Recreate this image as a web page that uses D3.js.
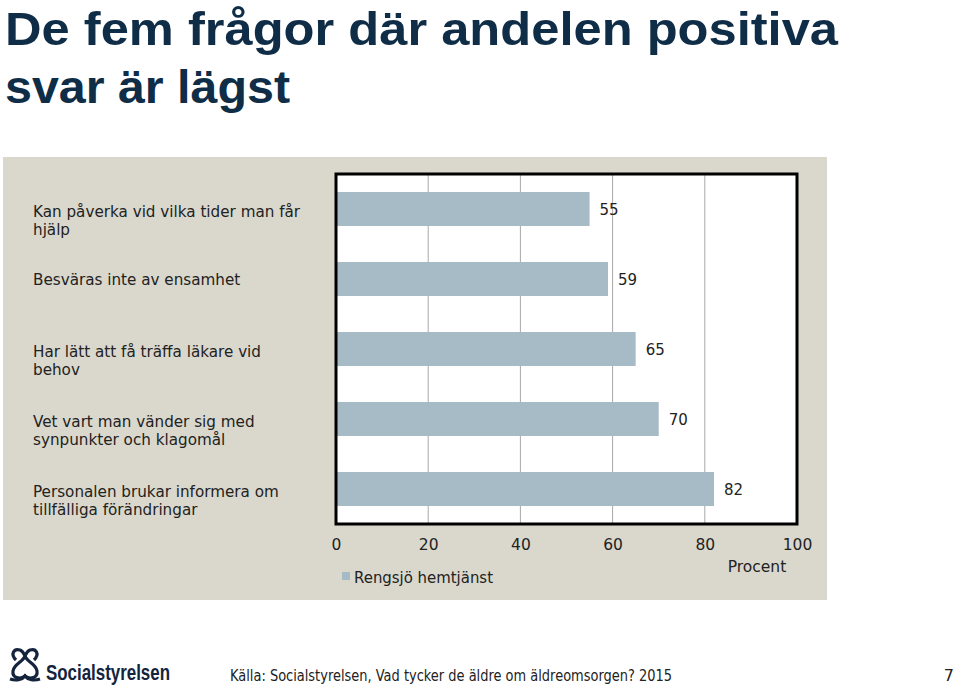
<!DOCTYPE html>
<html><head><meta charset="utf-8">
<script src="https://cdn.jsdelivr.net/npm/d3@7/dist/d3.min.js"></script>
<style>
html,body{margin:0;padding:0;background:#fff;}
svg{display:block;}
</style></head>
<body>
<svg id="chart" width="959" height="688"></svg>
<script>
const categories = [
  ["Kan påverka vid vilka tider man får", "hjälp"],
  ["Besväras inte av ensamhet"],
  ["Har lätt att få träffa läkare vid", "behov"],
  ["Vet vart man vänder sig med", "synpunkter och klagomål"],
  ["Personalen brukar informera om", "tillfälliga förändringar"]
];
const values = [55, 59, 65, 70, 82];
const xTicks = [0, 20, 40, 60, 80, 100];
const seriesName = "Rengsjö hemtjänst";
const axisTitle = "Procent";
const titleLines = ["De fem frågor där andelen positiva", "svar är lägst"];
const sourceText = "Källa: Socialstyrelsen, Vad tycker de äldre om äldreomsorgen? 2015";
const pageNumber = "7";

const svg = d3.select("#chart");
const FONT = "'DejaVu Sans', sans-serif";

// Title
svg.append("text").attr("x", 5).attr("y", 45)
  .attr("font-family", "'Liberation Sans', Arial, sans-serif").attr("font-weight", "bold")
  .attr("font-size", 47).attr("fill", "#0f2d47")
  .attr("textLength", 833).attr("lengthAdjust", "spacingAndGlyphs")
  .text(titleLines[0]);
svg.append("text").attr("x", 5).attr("y", 103)
  .attr("font-family", "'Liberation Sans', Arial, sans-serif").attr("font-weight", "bold")
  .attr("font-size", 47).attr("fill", "#0f2d47")
  .attr("textLength", 285).attr("lengthAdjust", "spacingAndGlyphs")
  .text(titleLines[1]);

// Panel
svg.append("rect").attr("x", 3).attr("y", 157).attr("width", 824).attr("height", 443)
  .attr("fill", "#dad8cc");

const plot = {left: 336, right: 797, top: 174, bottom: 524};
const x = d3.scaleLinear().domain([0, 100]).range([plot.left, plot.right]);
const y = d3.scaleBand().domain(d3.range(values.length)).range([plot.top, plot.bottom]).paddingInner(0.514).paddingOuter(0.257);

svg.append("rect").attr("x", plot.left).attr("y", plot.top)
  .attr("width", plot.right - plot.left).attr("height", plot.bottom - plot.top)
  .attr("fill", "#fff");

// gridlines
svg.append("g").selectAll("line").data(xTicks.filter(d => d > 0 && d < 100)).join("line")
  .attr("x1", d => x(d)).attr("x2", d => x(d))
  .attr("y1", plot.top).attr("y2", plot.bottom)
  .attr("stroke", "#a8a8a8").attr("stroke-width", 1);

// bars
svg.append("g").selectAll("rect").data(values).join("rect")
  .attr("x", x(0)).attr("y", (d, i) => y(i))
  .attr("width", d => x(d) - x(0)).attr("height", y.bandwidth())
  .attr("fill", "#a6bbc6");

// value labels
svg.append("g").selectAll("text").data(values).join("text")
  .attr("x", d => x(d) + 10).attr("y", (d, i) => y(i) + y.bandwidth() / 2 + 6)
  .attr("font-family", FONT).attr("font-size", 15).attr("fill", "#222")
  .text(d => d);

// border
svg.append("rect").attr("x", plot.left).attr("y", plot.top)
  .attr("width", plot.right - plot.left).attr("height", plot.bottom - plot.top)
  .attr("fill", "none").attr("stroke", "#000").attr("stroke-width", 3);

// x axis labels
const xAxis = d3.axisBottom(x).tickValues(xTicks).tickSize(0).tickPadding(0);
const gx = svg.append("g").attr("transform", `translate(0,${plot.bottom + 26})`).call(xAxis);
gx.select(".domain").remove();
gx.selectAll("text").attr("font-family", FONT).attr("font-size", 15.5).attr("fill", "#222").attr("dy", 0);

svg.append("text").attr("x", 757).attr("y", 572).attr("text-anchor", "middle")
  .attr("font-family", FONT).attr("font-size", 15.5).attr("fill", "#222").text(axisTitle);

// category labels
categories.forEach((lines, i) => {
  const cy = y(i) + y.bandwidth() / 2;
  const n = lines.length;
  lines.forEach((ln, j) => {
    svg.append("text").attr("x", 33)
      .attr("y", n === 1 ? cy + 6 : cy + 7.5 + j * 18.5)
      .attr("font-family", FONT).attr("font-size", 15.2).attr("fill", "#222")
      .text(ln);
  });
});

// legend
svg.append("rect").attr("x", 342).attr("y", 572).attr("width", 8).attr("height", 8).attr("fill", "#a6bbc6");
svg.append("text").attr("x", 354).attr("y", 583)
  .attr("font-family", FONT).attr("font-size", 15.5).attr("fill", "#222")
  .attr("textLength", 139).attr("lengthAdjust", "spacingAndGlyphs").text(seriesName);

// footer
svg.append("text").attr("x", 230).attr("y", 681)
  .attr("font-family", FONT).attr("font-size", 16).attr("fill", "#222")
  .attr("textLength", 442).attr("lengthAdjust", "spacingAndGlyphs").text(sourceText);
svg.append("text").attr("x", 954).attr("y", 681).attr("text-anchor", "end")
  .attr("font-family", FONT).attr("font-size", 16).attr("fill", "#222").text(pageNumber);

// logo
const logo = svg.append("g").attr("fill", "none").attr("stroke", "#14243d").attr("stroke-width", 3.2);
logo.append("path").attr("d", "M16,660 C10,654 14,648 20,650 C23,651 24,654 25,656 C26,654 27,651 30,650 C36,648 40,654 34,660");
logo.append("path").attr("d", "M25,656 C23,662 14,664 13,671 C12,678 20,680 25,676 C30,680 38,678 37,671 C36,664 27,662 25,656");
logo.append("path").attr("d", "M10,679 C16,681 22,680 25,676 C28,680 34,681 40,679");
svg.append("text").attr("x", 46).attr("y", 680)
  .attr("font-family", "'Liberation Sans Narrow', 'Liberation Sans', sans-serif").attr("font-weight", "bold")
  .attr("font-size", 22).attr("fill", "#14243d")
  .attr("textLength", 124).attr("lengthAdjust", "spacingAndGlyphs")
  .text("Socialstyrelsen");
</script>
</body></html>
